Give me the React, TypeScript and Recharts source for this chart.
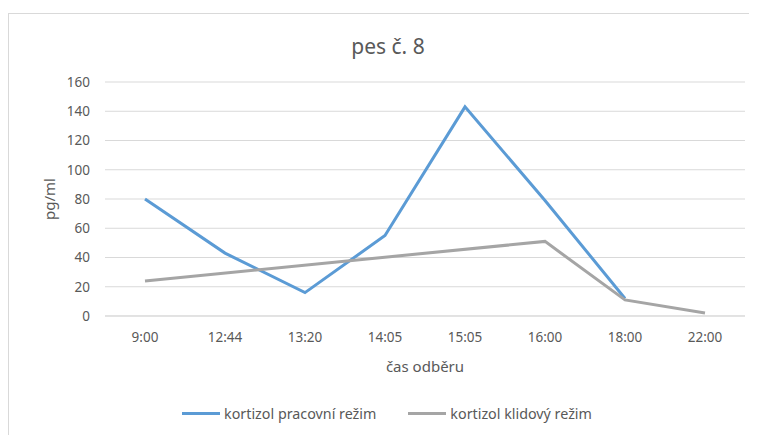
import { LineChart, Line, XAxis, YAxis, CartesianGrid, Legend } from 'recharts'

const times = ['9:00', '12:44', '13:20', '14:05', '15:05', '16:00', '18:00', '22:00']
const pracovni = [80, 43, 16, 55, 143, 79, 12, null]
const klidovy = [24, null, null, null, null, 51, 11, 2]
const yTicks = [0, 20, 40, 60, 80, 100, 120, 140, 160]

const data = times.map((t, i) => ({ time: t, pracovni: pracovni[i], klidovy: klidovy[i] }))

const font = "'Noto Sans', 'Open Sans', sans-serif"
const textColor = '#595959'
const blue = '#5B9BD5'
const gray = '#A5A5A5'

function ChartLegend() {
  const items = [
    { label: 'kortizol pracovní režim', color: blue },
    { label: 'kortizol klidový režim', color: gray },
  ]
  return (
    <div style={{ display: 'flex', justifyContent: 'center', alignItems: 'center', height: 24, paddingLeft: 20, fontFamily: font, fontSize: 14.3, color: textColor }}>
      {items.map((it) => (
        <div key={it.label} style={{ display: 'flex', alignItems: 'center', margin: '0 16px' }}>
          <span style={{ display: 'inline-block', width: 38, height: 3, background: it.color, marginRight: 4 }} />
          <span>{it.label}</span>
        </div>
      ))}
    </div>
  )
}

export default function App() {
  return (
    <div style={{ position: 'relative', marginTop: 5, width: 749, height: 422, borderTop: '1px solid #d9d9d9', borderLeft: '1px solid #d9d9d9' }}>
      <div style={{ position: 'absolute', top: 18, left: 0, width: 758, textAlign: 'center', fontFamily: font, fontSize: 21, color: textColor }}>
        pes č. 8
      </div>
      <LineChart width={748} height={421} data={data} margin={{ top: 68, right: 12, left: 0, bottom: 10 }}>
        <CartesianGrid vertical={false} stroke="#d9d9d9" />
        <XAxis
          dataKey="time"
          height={85}
          padding={{ left: 40, right: 40 }}
          tickLine={false}
          tickSize={0}
          tickMargin={16}
          stroke="#d9d9d9"
          tick={{ fontSize: 13.5, fill: textColor, fontFamily: font }}
          label={{
            content: (props: any) => {
              const vb = props.viewBox
              return (
                <text x={vb.x + vb.width / 2} y={vb.y + 56} textAnchor="middle" fontSize={15} fill={textColor} fontFamily={font}>
                  čas odběru
                </text>
              )
            },
          }}
        />
        <YAxis
          width={96}
          domain={[0, 160]}
          ticks={yTicks}
          axisLine={false}
          tickLine={false}
          tickSize={0}
          tickMargin={15}
          tick={{ fontSize: 13.5, fill: textColor, fontFamily: font }}
          label={{
            content: (props: any) => {
              const vb = props.viewBox
              const cx = 40
              const cy = vb.y + vb.height / 2
              return (
                <text x={cx} y={cy} transform={`rotate(-90 ${cx} ${cy})`} textAnchor="middle" dominantBaseline="central" fontSize={15} fill={textColor} fontFamily={font}>
                  pg/ml
                </text>
              )
            },
          }}
        />
        <Legend verticalAlign="bottom" content={() => <ChartLegend />} />
        <Line type="linear" dataKey="pracovni" name="kortizol pracovní režim" stroke={blue} strokeWidth={3} dot={false} isAnimationActive={false} />
        <Line type="linear" dataKey="klidovy" name="kortizol klidový režim" stroke={gray} strokeWidth={3} dot={false} connectNulls isAnimationActive={false} />
      </LineChart>
    </div>
  )
}
